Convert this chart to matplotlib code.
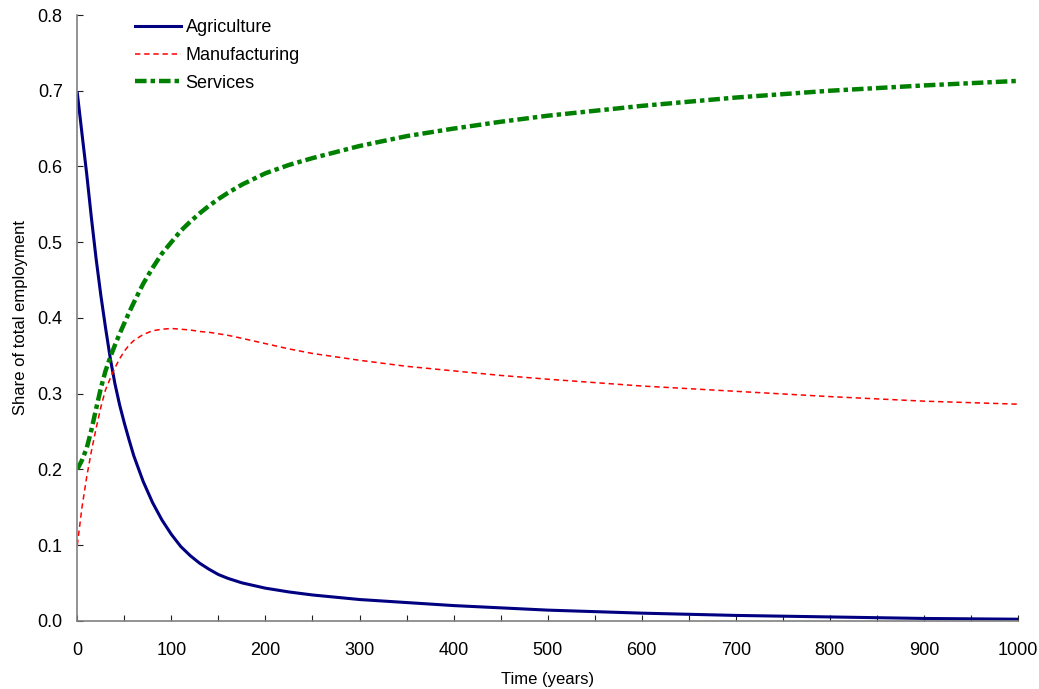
import matplotlib
matplotlib.use("Agg")
import matplotlib.pyplot as plt
from matplotlib.ticker import MultipleLocator, FormatStrFormatter

plt.rcParams["font.family"] = ["Liberation Sans", "DejaVu Sans"]

# Время (годы) и доли занятости по секторам
years = [0, 5, 10, 15, 20, 25, 30, 35, 40, 45, 50, 55, 60, 70, 80, 90, 100,
         110, 120, 130, 140, 150, 160, 175, 200, 225, 250, 300, 350, 400, 450,
         500, 600, 700, 800, 900, 1000]
agriculture = [0.697, 0.643, 0.590, 0.532, 0.478, 0.430, 0.387, 0.347, 0.313,
               0.285, 0.261, 0.239, 0.218, 0.184, 0.156, 0.133, 0.114, 0.098,
               0.086, 0.076, 0.068, 0.061, 0.056, 0.050, 0.043, 0.038, 0.034,
               0.028, 0.024, 0.020, 0.017, 0.014, 0.010, 0.007, 0.005, 0.003,
               0.002]
manufacturing = [0.100, 0.150, 0.190, 0.224, 0.254, 0.282, 0.305, 0.320, 0.334,
                 0.346, 0.356, 0.364, 0.370, 0.378, 0.383, 0.385, 0.386, 0.385,
                 0.384, 0.382, 0.381, 0.379, 0.377, 0.373, 0.366, 0.359, 0.353,
                 0.344, 0.336, 0.330, 0.324, 0.319, 0.310, 0.303, 0.296, 0.290,
                 0.286]
services = [0.200, 0.212, 0.228, 0.252, 0.280, 0.307, 0.330, 0.348, 0.364,
            0.379, 0.393, 0.407, 0.420, 0.445, 0.466, 0.485, 0.500, 0.515,
            0.527, 0.538, 0.548, 0.557, 0.565, 0.576, 0.591, 0.602, 0.611,
            0.627, 0.640, 0.650, 0.659, 0.667, 0.680, 0.691, 0.700, 0.707,
            0.713]

fig = plt.figure(figsize=(10.39, 6.89), dpi=100)
ax = fig.add_axes([0.0744, 0.0991, 0.9054, 0.8791])

ax.plot(years, agriculture, color="#000080", linewidth=2.2, label="Agriculture")
ax.plot(years, manufacturing, color="#ff0000", linewidth=1.1,
        dashes=(3.5, 2.5), label="Manufacturing")
ax.plot(years, services, color="#008000", linewidth=3.2,
        dashes=(2.6, 0.9, 1.0, 0.9), label="Services")

ax.set_xlim(0, 1000)
ax.set_ylim(0, 0.8)
ax.xaxis.set_major_locator(MultipleLocator(100))
ax.xaxis.set_minor_locator(MultipleLocator(50))
ax.yaxis.set_major_locator(MultipleLocator(0.1))
ax.yaxis.set_major_formatter(FormatStrFormatter("%.1f"))

for side in ["top", "right"]:
    ax.spines[side].set_visible(False)
for side in ["left", "bottom"]:
    ax.spines[side].set_color("#808080")
    ax.spines[side].set_linewidth(1.2)

ax.tick_params(which="both", direction="in", length=4, width=0.8,
               color="#202020", labelsize=13)
ax.tick_params(axis="x", pad=15)
ax.tick_params(axis="y", pad=10.5)

ax.set_xlabel("Time (years)", fontsize=12, labelpad=10)
ax.set_ylabel("Share of total employment", fontsize=12, labelpad=7)

ax.legend(loc="upper left", bbox_to_anchor=(135 / 1039, 1 - 19 / 689),
          bbox_transform=fig.transFigure, frameon=False, fontsize=13,
          handlelength=2.55, handletextpad=0.25, labelspacing=0.6,
          borderpad=0, borderaxespad=0)

fig.savefig("out.png", dpi=100)
